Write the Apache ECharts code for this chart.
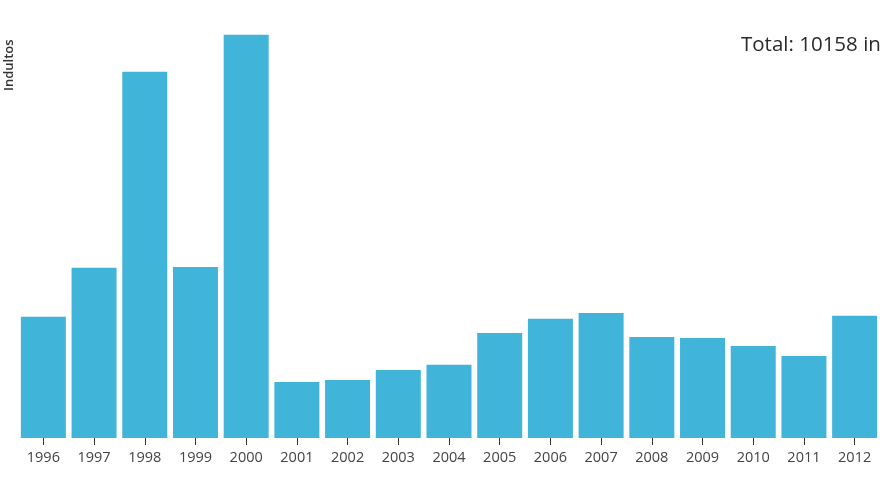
<!DOCTYPE html>
<html>
<head>
<meta charset="utf-8">
<script src="https://cdn.jsdelivr.net/npm/echarts@6/dist/echarts.min.js"></script>
<style>
html,body{margin:0;padding:0;background:#fff;}
#chart{width:880px;height:495px;}
</style>
</head>
<body>
<div id="chart"></div>
<script>
var years = ['1996','1997','1998','1999','2000','2001','2002','2003','2004','2005','2006','2007','2008','2009','2010','2011','2012'];
var indultos = [527, 740, 1592, 744, 1753, 244, 252, 296, 318, 457, 518, 544, 439, 435, 400, 357, 531];
var totalText = 'Total: 10158 indultos';
var yTitle = 'Indultos';

var chart = echarts.init(document.getElementById('chart'));
chart.setOption({
  animation: false,
  grid: { left: 18, width: 863, top: 24, bottom: 57, containLabel: false },
  xAxis: {
    type: 'category',
    data: years,
    axisLine: { show: false },
    axisTick: { show: true, alignWithLabel: true, length: 7, lineStyle: { color: '#333', width: 1 } },
    axisLabel: { color: '#444', fontFamily: 'Open Sans', fontSize: 14.5, margin: 12 }
  },
  yAxis: {
    type: 'value',
    min: 0,
    max: 1800,
    show: false,
    splitLine: { show: false }
  },
  series: [{
    type: 'bar',
    data: indultos,
    barWidth: 45,
    itemStyle: { color: '#41b4d9' }
  }],
  graphic: [
    {
      type: 'text',
      left: 741,
      top: 35,
      style: { text: totalText, fontFamily: 'Open Sans', fontSize: 20.5, fill: '#2a2a2a' }
    },
    {
      type: 'text',
      x: 3,
      y: 91,
      rotation: Math.PI / 2,
      style: { text: yTitle, fontFamily: 'Open Sans', fontSize: 13, fontWeight: 600, fill: '#333' }
    }
  ]
});
</script>
</body>
</html>
